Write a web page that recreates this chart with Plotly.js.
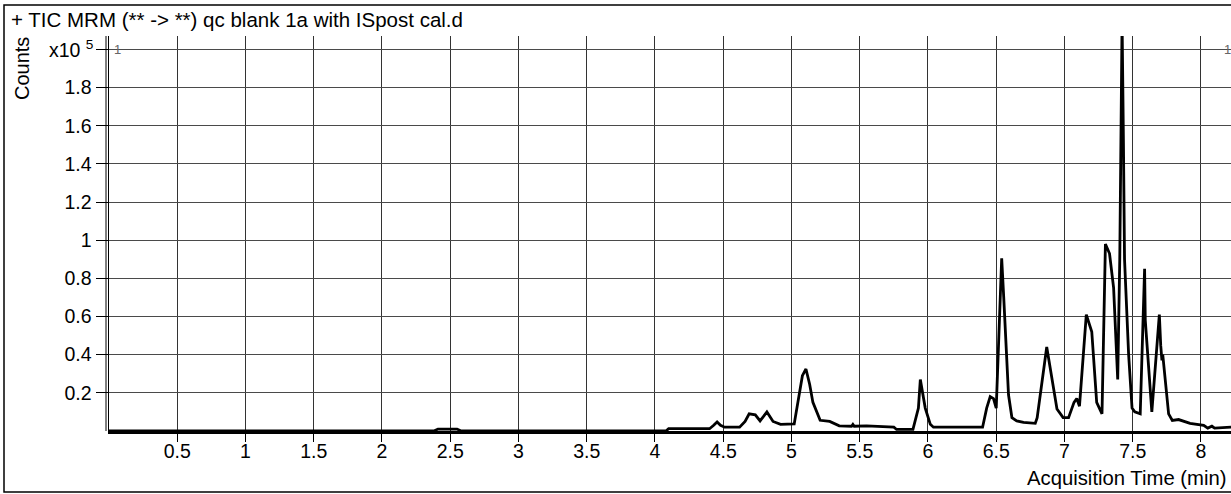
<!DOCTYPE html>
<html>
<head>
<meta charset="utf-8">
<script src="https://cdn.plot.ly/plotly-3.0.1.min.js"></script>
<style>
html,body{margin:0;padding:0;background:#fff;}
#chart{width:1231px;height:494px;}
</style>
</head>
<body>
<div id="chart"></div>
<script>
// Acquisition time (min)
const timeMin = [0.0, 2.38, 2.41, 2.55, 2.58, 4.08, 4.10, 4.40, 4.43, 4.455, 4.48, 4.51, 4.62, 4.66, 4.69, 4.735, 4.77, 4.82, 4.865, 4.92, 5.02, 5.05, 5.08, 5.106, 5.133, 5.157, 5.21, 5.28, 5.35, 5.44, 5.45, 5.46, 5.55, 5.75, 5.77, 5.89, 5.93, 5.944, 5.98, 6.017, 6.04, 6.40, 6.43, 6.456, 6.48, 6.50, 6.54, 6.555, 6.59, 6.615, 6.65, 6.70, 6.786, 6.80, 6.87, 6.945, 6.99, 7.03, 7.07, 7.09, 7.11, 7.16, 7.20, 7.236, 7.275, 7.30, 7.33, 7.36, 7.39, 7.405, 7.412, 7.422, 7.432, 7.44, 7.47, 7.495, 7.515, 7.555, 7.587, 7.592, 7.64, 7.695, 7.705, 7.714, 7.72, 7.763, 7.79, 7.836, 7.92, 8.02, 8.05, 8.08, 8.10, 8.22];
// Counts (x10^5)
const counts = [0.0, 0.0, 0.01, 0.01, 0.0, 0.0, 0.012, 0.012, 0.03, 0.047, 0.03, 0.02, 0.02, 0.05, 0.09, 0.085, 0.053, 0.10, 0.05, 0.035, 0.037, 0.175, 0.29, 0.325, 0.245, 0.15, 0.056, 0.05, 0.027, 0.025, 0.035, 0.025, 0.027, 0.02, 0.008, 0.008, 0.12, 0.27, 0.12, 0.035, 0.02, 0.02, 0.12, 0.18, 0.17, 0.12, 0.905, 0.7, 0.19, 0.07, 0.053, 0.045, 0.04, 0.07, 0.44, 0.115, 0.07, 0.07, 0.15, 0.17, 0.13, 0.61, 0.52, 0.15, 0.09, 0.98, 0.93, 0.75, 0.27, 0.9, 1.51, 2.15, 1.51, 0.9, 0.40, 0.12, 0.10, 0.09, 0.85, 0.58, 0.10, 0.61, 0.45, 0.37, 0.40, 0.09, 0.055, 0.06, 0.04, 0.03, 0.015, 0.025, 0.015, 0.02];

const xTickVals = [0.5, 1, 1.5, 2, 2.5, 3, 3.5, 4, 4.5, 5, 5.5, 6, 6.5, 7, 7.5, 8];
const xTickText = ['0.5', '1', '1.5', '2', '2.5', '3', '3.5', '4', '4.5', '5', '5.5', '6', '6.5', '7', '7.5', '8'];
const yTickVals = [0.2, 0.4, 0.6, 0.8, 1.0, 1.2, 1.4, 1.6, 1.8, 2.0];
const yTickText = ['0.2', '0.4', '0.6', '0.8', '1', '1.2', '1.4', '1.6', '1.8', ' '];

const FONT = 'Liberation Sans, Arial, sans-serif';
const W = 1231, H = 494, ML = 109, MR = 0, MT = 36, MB = 63;
const PW = W - ML - MR, PH = H - MT - MB;
const px2paperX = p => (p - ML) / PW;
const py2paperY = p => (H - MB - p) / PH;

const trace = {
  x: timeMin, y: counts, type: 'scatter', mode: 'lines',
  line: {color: '#000', width: 2.8}, hoverinfo: 'x+y', cliponaxis: true
};

const layout = {
  width: W, height: H,
  margin: {l: ML, r: MR, t: MT, b: MB, pad: 0},
  paper_bgcolor: '#fff', plot_bgcolor: '#fff',
  showlegend: false,
  title: {
    text: '+ TIC MRM (** -> **) qc blank 1a with ISpost cal.d',
    font: {family: FONT, size: 20.5, color: '#000'},
    x: 11 / W, xanchor: 'left', xref: 'container',
    y: 1 - 20 / H, yanchor: 'middle', yref: 'container'
  },
  xaxis: {
    range: [0, 8.22], tickmode: 'array', tickvals: xTickVals, ticktext: xTickText,
    ticks: 'outside', ticklen: 8, tickcolor: '#000', tickwidth: 1,
    ticklabelstandoff: -7,
    showgrid: true, gridcolor: '#333', gridwidth: 1,
    zeroline: false, showline: true, linecolor: '#000', linewidth: 2.5,
    tickfont: {family: FONT, size: 19.5, color: '#000'},
    fixedrange: true
  },
  yaxis: {
    range: [0, 2.07], tickmode: 'array', tickvals: yTickVals, ticktext: yTickText,
    ticks: 'outside', ticklen: 12, tickcolor: '#000', tickwidth: 1,
    showgrid: true, gridcolor: '#4a4a4a', gridwidth: 1,
    zeroline: false, showline: true, linecolor: '#000', linewidth: 1.5,
    tickfont: {family: FONT, size: 19.5, color: '#000'},
    fixedrange: true
  },
  shapes: [
    // outer frame
    {type: 'rect', xref: 'paper', yref: 'paper',
     x0: px2paperX(4), x1: px2paperX(1233), y0: py2paperY(492), y1: py2paperY(5),
     line: {color: '#000', width: 1.5}, fillcolor: 'rgba(0,0,0,0)', layer: 'below'},
    // second (double) left axis line
    {type: 'line', xref: 'paper', yref: 'paper',
     x0: px2paperX(106), x1: px2paperX(106), y0: 0, y1: 1,
     line: {color: '#000', width: 1}}
  ],
  annotations: [
    {text: 'x10 <sup>5</sup>', xref: 'paper', yref: 'y', x: px2paperX(96), y: 2.0,
     xanchor: 'right', yanchor: 'middle', showarrow: false,
     font: {family: FONT, size: 19.5, color: '#000'}},
    {text: 'Counts', xref: 'paper', yref: 'paper', x: px2paperX(22), y: py2paperY(69),
     xanchor: 'center', yanchor: 'middle', textangle: -90, showarrow: false,
     font: {family: FONT, size: 20, color: '#000'}},
    {text: 'Acquisition Time (min)', xref: 'paper', yref: 'paper', x: px2paperX(1229), y: py2paperY(478),
     xanchor: 'right', yanchor: 'middle', showarrow: false,
     font: {family: FONT, size: 20.3, color: '#000'}},
    {text: '1', xref: 'paper', yref: 'y', x: px2paperX(112), y: 2.0,
     xanchor: 'left', yanchor: 'middle', showarrow: false,
     font: {family: FONT, size: 13, color: '#666'}},
    {text: '1', xref: 'paper', yref: 'y', x: px2paperX(1222), y: 2.0,
     xanchor: 'left', yanchor: 'middle', showarrow: false,
     font: {family: FONT, size: 13, color: '#666'}}
  ]
};

Plotly.newPlot('chart', [trace], layout, {displayModeBar: false, staticPlot: true});
</script>
</body>
</html>
